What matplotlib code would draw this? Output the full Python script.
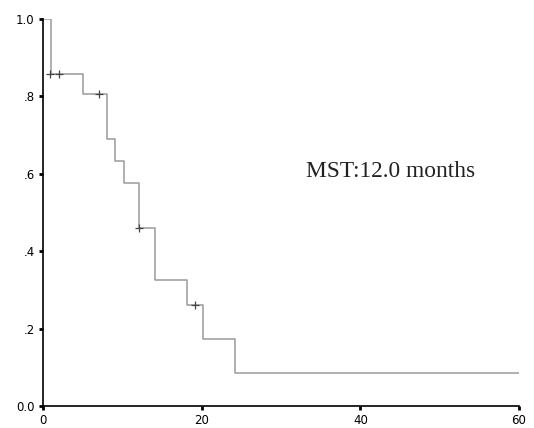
import matplotlib
matplotlib.use("Agg")
import matplotlib.pyplot as plt

# Kaplan-Meier step data (time in months, survival proportion)
times = [0, 1.0, 5.0, 8.1, 9.1, 10.2, 12.1, 14.1, 18.1, 20.2, 24.2, 60]
surv = [1.0, 0.857, 0.807, 0.689, 0.632, 0.575, 0.459, 0.326, 0.261, 0.173, 0.0845, 0.0845]
censor_t = [0.9, 2.0, 7.1, 12.1, 19.2]
censor_s = [0.857, 0.857, 0.807, 0.459, 0.261]
xticks = [0, 20, 40, 60]
yticks = [0.0, 0.2, 0.4, 0.6, 0.8, 1.0]
ytick_labels = ["0.0", ".2", ".4", ".6", ".8", "1.0"]
annotation = "MST:12.0 months"

fig = plt.figure(figsize=(5.34, 4.28), dpi=100)
ax = fig.add_axes([0.0805, 0.0514, 0.8915, 0.9042])
ax.step(times, surv, where="post", color="#9a9a9a", lw=1.1)
ax.plot(censor_t, censor_s, "+", color="#444444", ms=6, mew=0.9)
ax.set_xlim(0, 60)
ax.set_ylim(0, 1.0)
ax.set_xticks(xticks)
ax.set_yticks(yticks)
ax.set_yticklabels(ytick_labels)
for s in ["top", "right"]:
    ax.spines[s].set_visible(False)
for s in ["left", "bottom"]:
    ax.spines[s].set_linewidth(1.2)
ax.tick_params(length=3, width=2, labelsize=8.5, pad=3)
ax.text(33.2, 0.5925, annotation, fontsize=16.8, family="Liberation Serif",
        va="baseline", ha="left", color="#222222")
fig.savefig("out.png", dpi=100)
